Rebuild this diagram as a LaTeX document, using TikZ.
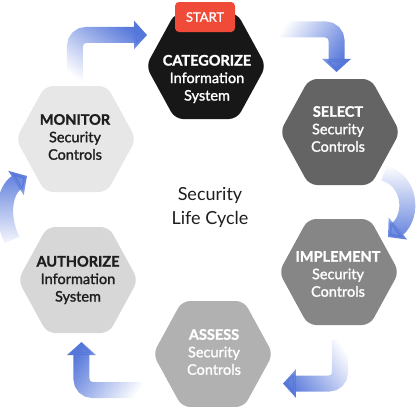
\documentclass[tikz,border=0pt]{standalone}
\usepackage{fontspec}
\setmainfont{Lato}
\newfontfamily\medfont{Lato}[FakeBold=1.5]
\usetikzlibrary{arrows.meta,fadings}
\definecolor{arrowblue}{HTML}{5677DA}
\definecolor{startred}{HTML}{F04B38}
\definecolor{hexcat}{HTML}{171717}
\definecolor{hexsel}{HTML}{646464}
\definecolor{heximp}{HTML}{868686}
\definecolor{hexass}{HTML}{B1B1B1}
\definecolor{hexaut}{HTML}{D7D7D7}
\definecolor{hexmon}{HTML}{E7E7E7}
\definecolor{darktext}{HTML}{1E1E1E}
\tikzfading[name=fadeR, left color=transparent!100, right color=transparent!0]
\newcommand{\hexagonat}[3]{%
  \fill[#3, rounded corners=8pt] (#1+60,#2) -- (#1+31,#2+53) -- (#1-31,#2+53)
    -- (#1-60,#2) -- (#1-31,#2-53) -- (#1+31,#2-53) -- cycle;}
\tikzset{
  arr/.style={line width=16pt, draw=arrowblue, rounded corners=11pt,
    -{Triangle[width=28pt,length=13pt]}},
  hexlabel/.style={align=center, inner sep=0pt,
    font=\fontsize{14.5}{17.5}\selectfont\medfont},
}
\begin{document}
\begin{tikzpicture}[x=1pt,y=-1pt]
\useasboundingbox (0,0) rectangle (416,407);
% hexagons
\hexagonat{206}{66}{hexcat}
\hexagonat{340}{132}{hexsel}
\hexagonat{339}{272}{heximp}
\hexagonat{213}{354}{hexass}
\hexagonat{78}{280}{hexaut}
\hexagonat{76}{139}{hexmon}
% labels
\node[hexlabel, text=white] (cat) at (207,79) {{\bfseries CATEGORIZE}\\Information\\System};
\node[hexlabel, text=white] (sel) at (338,129) {{\bfseries SELECT}\\Security\\Controls};
\node[hexlabel, text=white] (imp) at (338,274) {{\bfseries IMPLEMENT}\\Security\\Controls};
\node[hexlabel, text=white] (ass) at (214,352) {{\bfseries ASSESS}\\Security\\Controls};
\node[hexlabel, text=darktext] (aut) at (78,280) {{\bfseries AUTHORIZE}\\Information\\System};
\node[hexlabel, text=darktext] (mon) at (75,137) {{\bfseries MONITOR}\\Security\\Controls};
% start tag
\node[fill=startred, rounded corners=4pt, minimum width=60pt, minimum height=30pt,
  inner sep=0pt, text=white, font=\fontsize{13}{15}\selectfont\medfont] (start) at (205,17) {START};
% centre
\node[align=center, text=darktext, font=\fontsize{18}{24}\selectfont] (life) at (210,207) {Security\\Life Cycle};
% arrow anchors
\coordinate (a1s) at (280,29.5); \coordinate (a1c) at (336.5,29.5); \coordinate (a1e) at (336.5,72);
\coordinate (a2s) at (384,173); \coordinate (a2e) at (388,237);
\coordinate (a3s) at (340,340); \coordinate (a3c) at (340,383.5); \coordinate (a3e) at (283,383.5);
\coordinate (a4s) at (142,390); \coordinate (a4c) at (81.5,390); \coordinate (a4e) at (81.5,342);
\coordinate (a5s) at (12,240); \coordinate (a5e) at (27,176);
\coordinate (a6s) at (75,82); \coordinate (a6c) at (75,35); \coordinate (a6e) at (147,35);
% arrows
\draw[arr, path fading=fadeR, fading angle=-30] (a1s) -- (a1c) -- (a1e);
\draw[arr, path fading=fadeR, fading angle=-90] (a2s) .. controls (410,180) and (414,215) .. (a2e);
\draw[arr, path fading=fadeR, fading angle=210] (a3s) -- (a3c) -- (a3e);
\draw[arr, path fading=fadeR, fading angle=150] (a4s) -- (a4c) -- (a4e);
\draw[arr, path fading=fadeR, fading angle=90] (a5s) .. controls (0,215) and (5,190) .. (a5e);
\draw[arr, path fading=fadeR, fading angle=45] (a6s) -- (a6c) -- (a6e);
\end{tikzpicture}
\end{document}
